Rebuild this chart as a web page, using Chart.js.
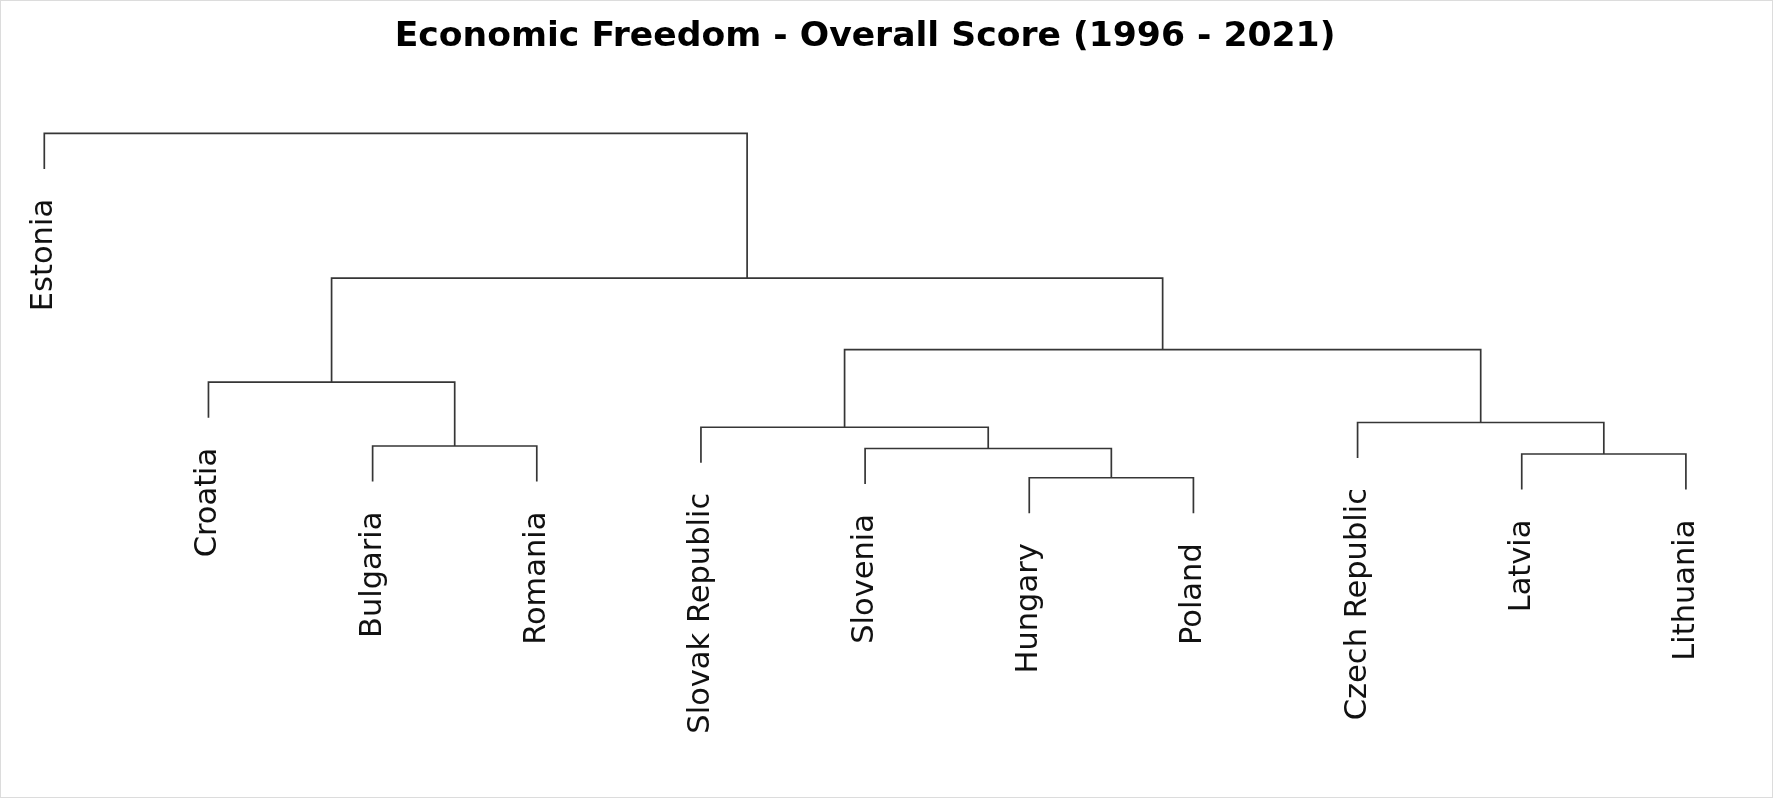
<!DOCTYPE html>
<html>
<head>
<meta charset="utf-8">
<title>Economic Freedom dendrogram</title>
<script src="https://cdn.jsdelivr.net/npm/chart.js@4.4.1/dist/chart.umd.min.js"></script>
<style>
  html, body { margin: 0; padding: 0; background: #fff; }
  canvas { display: block; }
</style>
</head>
<body>
<canvas id="chart" width="1773" height="798"></canvas>
<script>
// leaves in plotted order
const countries = ['Estonia', 'Croatia', 'Bulgaria', 'Romania', 'Slovak Republic', 'Slovenia',
                   'Hungary', 'Poland', 'Czech Republic', 'Latvia', 'Lithuania'];

// merge table (R style: negative = leaf position, positive = earlier merge)
const mergeLeft   = [-7, -10, -6, -3, -5, -9, -2, 5, 7, -1];
const mergeRight  = [-8, -11,  1, -4,  3,  2,  4, 6, 8,  9];
const mergeHeight = [1.69, 2.64, 2.86, 2.96, 3.71, 3.90, 5.51, 6.81, 9.67, 15.46];

const hang = 1.42;
const titleText = 'Economic Freedom - Overall Score (1996 - 2021)';

// work out x centre of each merge and build the U shaped links
const mergeX = [];
const leafEnd = [];
function childX(c) { return c < 0 ? -c : mergeX[c - 1]; }
function childY(c, h) {
    if (c < 0) {
        leafEnd[-c - 1] = h - hang;
        return h - hang;
    }
    return mergeHeight[c - 1];
}

const datasets = [];
for (let i = 0; i < mergeHeight.length; i++) {
    const l = mergeLeft[i], r = mergeRight[i], h = mergeHeight[i];
    const xl = childX(l), xr = childX(r);
    mergeX.push((xl + xr) / 2);
    datasets.push({
        data: [
            { x: xl, y: childY(l, h) },
            { x: xl, y: h },
            { x: xr, y: h },
            { x: xr, y: childY(r, h) }
        ],
        showLine: true,
        borderColor: '#363636',
        borderWidth: 1.7,
        pointRadius: 0,
        tension: 0,
        fill: false,
        clip: false,
        borderJoinStyle: 'miter'
    });
}

const leafLabels = {
    id: 'leafLabels',
    beforeDraw(chart) {
        const ctx = chart.ctx;
        ctx.save();
        ctx.fillStyle = '#ffffff';
        ctx.fillRect(0, 0, chart.width, chart.height);
        ctx.strokeStyle = '#dcdcdc';
        ctx.lineWidth = 1;
        ctx.strokeRect(0.5, 0.5, chart.width - 1, chart.height - 1);
        ctx.restore();
    },
    afterDatasetsDraw(chart) {
        const ctx = chart.ctx;
        const xs = chart.scales.x, ys = chart.scales.y;
        ctx.save();
        ctx.fillStyle = '#111111';
        ctx.font = '30.5px "DejaVu Sans"';
        ctx.textAlign = 'right';
        ctx.textBaseline = 'alphabetic';
        countries.forEach((name, i) => {
            const px = xs.getPixelForValue(i + 1);
            const py = ys.getPixelForValue(leafEnd[i]);
            ctx.save();
            ctx.translate(px, py + 30);
            ctx.rotate(-Math.PI / 2);
            ctx.fillText(name, 0, 8);
            ctx.restore();
        });
        ctx.restore();
    }
};

const chart = new Chart(document.getElementById('chart'), {
    type: 'scatter',
    data: { datasets: datasets },
    options: {
        responsive: false,
        animation: false,
        devicePixelRatio: 1,
        layout: {
            padding: { left: 44.3, right: 87.1, top: 0, bottom: 278 }
        },
        scales: {
            x: { type: 'linear', min: 1, max: countries.length, display: false },
            y: { type: 'linear', min: 0, max: mergeHeight[mergeHeight.length - 1], display: false }
        },
        plugins: {
            legend: { display: false },
            tooltip: { enabled: false },
            title: {
                display: true,
                text: titleText,
                color: '#000000',
                font: { family: '"DejaVu Sans"', size: 34.6, weight: 'bold', lineHeight: 1.2 },
                padding: { top: 16.6, bottom: 75.3 }
            }
        }
    },
    plugins: [leafLabels]
});
</script>
</body>
</html>
